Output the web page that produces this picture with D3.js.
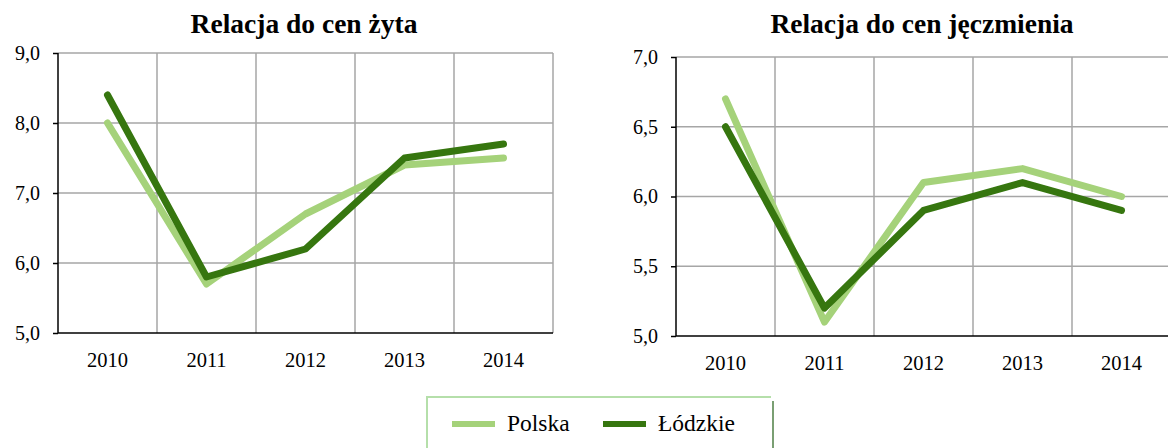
<!DOCTYPE html>
<html>
<head>
<meta charset="utf-8">
<script src="https://cdn.jsdelivr.net/npm/d3@7"></script>
<style>
  html, body { margin: 0; padding: 0; background: #fff; }
  svg { display: block; }
  svg text { font-family: "Liberation Serif", "Times New Roman", serif; fill: #000; }
</style>
</head>
<body>
<svg id="chart" width="1168" height="448"></svg>
<script>
// Years on the horizontal axis
const years = ["2010", "2011", "2012", "2013", "2014"];

// Relation to rye prices
const ryePolska = [8.0, 5.7, 6.7, 7.4, 7.5];
const ryeLodzkie = [8.4, 5.8, 6.2, 7.5, 7.7];
const ryeTicks = [5.0, 6.0, 7.0, 8.0, 9.0];

// Relation to barley prices
const barleyPolska = [6.7, 5.1, 6.1, 6.2, 6.0];
const barleyLodzkie = [6.5, 5.2, 5.9, 6.1, 5.9];
const barleyTicks = [5.0, 5.5, 6.0, 6.5, 7.0];

const seriesNames = ["Polska", "Łódzkie"];
const colors = { "Polska": "#a5d27a", "Łódzkie": "#36760f" };

const svg = d3.select("#chart");
const fmt = v => d3.format(".1f")(v).replace(".", ",");

function panel(opts) {
  const { left, top, width, height, title, titleX, ticks, polska, lodzkie } = opts;
  const g = svg.append("g").attr("transform", `translate(${left},${top})`);

  const x = d3.scaleBand().domain(years).range([0, width]);
  const y = d3.scaleLinear().domain([ticks[0], ticks[ticks.length - 1]]).range([height, 0]);

  // Horizontal grid lines
  g.append("g").selectAll("line").data(ticks.slice(1)).join("line")
    .attr("x1", 0).attr("x2", width)
    .attr("y1", d => y(d)).attr("y2", d => y(d))
    .attr("stroke", "#a6a6a6").attr("stroke-width", 1.5);

  // Vertical grid lines at band boundaries
  g.append("g").selectAll("line").data(years).join("line")
    .attr("x1", d => x(d) + x.bandwidth()).attr("x2", d => x(d) + x.bandwidth())
    .attr("y1", 0).attr("y2", height)
    .attr("stroke", "#a6a6a6").attr("stroke-width", 1.5);

  // Y axis
  const ya = g.append("g").call(d3.axisLeft(y).tickValues(ticks).tickFormat(fmt).tickSize(5).tickPadding(13));
  ya.attr("font-family", null).attr("font-size", null);
  ya.select(".domain").attr("stroke", "#000").attr("stroke-width", 1.5).attr("d", `M0,0V${height}`);
  ya.selectAll(".tick line").attr("stroke", "#000").attr("stroke-width", 1.5);
  ya.selectAll(".tick text").style("font-size", "20px");

  // X axis
  const xa = g.append("g").attr("transform", `translate(0,${height})`)
    .call(d3.axisBottom(x).tickSize(0).tickPadding(19));
  xa.attr("font-family", null).attr("font-size", null);
  xa.select(".domain").attr("stroke", "#000").attr("stroke-width", 1.5).attr("d", `M0,0H${width}`);
  xa.selectAll(".tick text").style("font-size", "20.5px");

  // Lines
  const line = d3.line().x((d, i) => x(years[i]) + x.bandwidth() / 2).y(d => y(d));
  [["Polska", polska], ["Łódzkie", lodzkie]].forEach(([name, vals]) => {
    g.append("path").datum(vals)
      .attr("d", line)
      .attr("fill", "none")
      .attr("stroke", colors[name])
      .attr("stroke-width", 7)
      .attr("stroke-linecap", "round")
      .attr("stroke-linejoin", "round");
  });

  // Title
  svg.append("text")
    .attr("x", titleX).attr("y", 33)
    .attr("text-anchor", "middle")
    .style("font-size", "27.5px").style("font-weight", "bold")
    .text(title);
}

panel({ left: 58, top: 53, width: 495, height: 280, title: "Relacja do cen żyta", titleX: 304,
        ticks: ryeTicks, polska: ryePolska, lodzkie: ryeLodzkie });
panel({ left: 676, top: 57, width: 495, height: 279, title: "Relacja do cen jęczmienia", titleX: 922,
        ticks: barleyTicks, polska: barleyPolska, lodzkie: barleyLodzkie });

// Legend
const lg = svg.append("g");
lg.append("path").attr("d", "M427,460V397H771").attr("fill", "none")
  .attr("stroke", "#b5dfaa").attr("stroke-width", 2);
lg.append("line").attr("x1", 773).attr("x2", 773).attr("y1", 401).attr("y2", 460)
  .attr("stroke", "#4e7f45").attr("stroke-width", 1.5);

const legendX = [452, 603];
seriesNames.forEach((name, i) => {
  lg.append("line")
    .attr("x1", legendX[i]).attr("x2", legendX[i] + 43)
    .attr("y1", 424).attr("y2", 424)
    .attr("stroke", colors[name]).attr("stroke-width", 6);
  lg.append("text")
    .attr("x", legendX[i] + 55).attr("y", 431)
    .style("font-size", "23.5px")
    .text(name);
});
</script>
</body>
</html>
